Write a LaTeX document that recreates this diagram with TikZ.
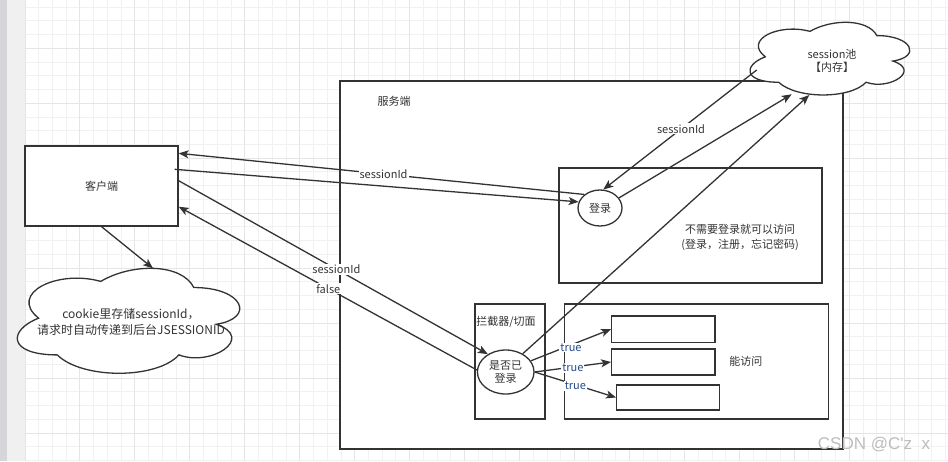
\documentclass[tikz,border=0pt]{standalone}
\usepackage{fontspec}
\setmainfont{Noto Sans CJK SC}
\newfontfamily\wmfont{Liberation Sans}
\usetikzlibrary{arrows.meta,calc,shapes.geometric}
\definecolor{linec}{HTML}{333333}
\definecolor{txtc}{HTML}{333333}
\definecolor{gridmin}{HTML}{F1F1F1}
\definecolor{gridmaj}{HTML}{E5E5E5}
\definecolor{truec}{HTML}{27498A}
\definecolor{stripd}{HTML}{D6D6DA}
\definecolor{stripl}{HTML}{F0F0F0}
\definecolor{wmark}{HTML}{BDBDBD}
% flipped draw.io cloud: x0, y0, w, h (pixel coordinates, y downwards)
\newcommand{\mycloud}[4]{%
\draw[cloudst] ({#1+0.75*#3},{#2+0.25*#4})
 .. controls ({#1+0.95*#3},{#2+0.25*#4}) and ({#1+#3},{#2+0.5*#4}) .. ({#1+0.84*#3},{#2+0.55*#4})
 .. controls ({#1+#3},{#2+0.66*#4}) and ({#1+0.82*#3},{#2+0.9*#4}) .. ({#1+0.69*#3},{#2+0.8*#4})
 .. controls ({#1+0.6*#3},{#2+#4}) and ({#1+0.3*#3},{#2+#4}) .. ({#1+0.2*#3},{#2+0.8*#4})
 .. controls ({#1},{#2+0.8*#4}) and ({#1},{#2+0.6*#4}) .. ({#1+0.125*#3},{#2+0.5*#4})
 .. controls ({#1},{#2+0.3*#4}) and ({#1+0.2*#3},{#2+0.1*#4}) .. ({#1+0.375*#3},{#2+0.2*#4})
 .. controls ({#1+0.5*#3},{#2+0.05*#4}) and ({#1+0.7*#3},{#2+0.05*#4}) .. ({#1+0.75*#3},{#2+0.25*#4})
 -- cycle;}
\tikzset{
 boxst/.style={draw=linec, line width=1.3pt, fill=white, rectangle, inner sep=0pt,
   font=\fontsize{11}{14}\selectfont, text=txtc},
 ellst/.style={draw=linec, line width=1.3pt, fill=white, ellipse, inner sep=0pt,
   font=\fontsize{11}{14}\selectfont, text=txtc, align=center},
 txt/.style={font=\fontsize{11}{15}\selectfont, text=txtc, align=center, inner sep=0pt},
 lbl/.style={font=\fontsize{11}{13}\selectfont, text=txtc, fill=white, inner sep=1pt},
 tlbl/.style={lbl, text=truec},
 conn/.style={draw=linec, line width=1.3pt, -{Stealth[length=10pt,width=8pt,inset=2.5pt]}},
 cloudst/.style={draw=linec, line width=1.3pt, fill=white},
 gmin/.style={draw=gridmin, line width=1pt},
 gmaj/.style={draw=gridmaj, line width=1pt},
}
\begin{document}
\begin{tikzpicture}[x=1pt,y=-1pt]
\useasboundingbox (0,0) rectangle (948,461);
% background and grid
\fill[white] (0,0) rectangle (948,461);
\foreach \i in {0,...,67} {\draw[gmin] ({25+13.74*\i},0) -- ({25+13.74*\i},461);}
\foreach \j in {0,...,34} {\draw[gmin] (25,{-6.66+13.74*\j}) -- (948,{-6.66+13.74*\j});}
\foreach \i in {0,...,16} {\draw[gmaj] ({25+54.96*\i},0) -- ({25+54.96*\i},461);}
\foreach \j in {0,...,8} {\draw[gmaj] (25,{-6.66+54.96*\j}) -- (948,{-6.66+54.96*\j});}
\fill[stripd] (0,0) rectangle (7,461);
\fill[stripl] (7,0) rectangle (25,461);

% server side
\node[boxst, minimum width=503pt, minimum height=368pt] (server) at (591.5,265) {};
\node[txt] (servert) at (394,101.5) {服务端};
\node[boxst, minimum width=263pt, minimum height=115pt] (free) at (690.5,225.5) {};
\node[txt] (freet) at (740,237.5) {不需要登录就可以访问\\(登录，注册，忘记密码)};
\node[boxst, minimum width=70pt, minimum height=115pt] (inter) at (510,361.5) {};
\node[txt] (intert) at (506,321.7) {拦截器/切面};
\node[boxst, minimum width=264pt, minimum height=115pt] (access) at (696.3,361.5) {};
\node[txt] (accesst) at (745.8,361.7) {能访问};
\node[boxst, minimum width=103.3pt, minimum height=26.3pt] (pa) at (663.35,329.15) {};
\node[boxst, minimum width=103.3pt, minimum height=26pt] (pb) at (663.35,362) {};
\node[boxst, minimum width=102.6pt, minimum height=25pt] (pc) at (668,397.5) {};
\node[ellst, minimum width=44pt, minimum height=36pt] (login) at (600,208) {登录};
\node[ellst, minimum width=56.6pt, minimum height=44pt, font=\fontsize{11}{13.3}\selectfont] (check) at (505.7,372) {是否已\\登录};

% session pool
\mycloud{743}{14.4}{178.4}{84.8}
\node[txt, font=\fontsize{11}{13}\selectfont] (pool) at (832,61) {session池\\【内存】};

% client
\node[boxst, minimum width=153pt, minimum height=80pt] (client) at (101.5,186) {客户端};
\mycloud{7.6}{256.9}{248.3}{122.5}
\node[txt, font=\fontsize{12}{16}\selectfont] (cookie) at (131,322) {cookie里存储sessionId，\\请求时自动传递到后台JSESSIONID};

% connectors
\draw[conn] (client.south) -- ($(cookie)+(22,-53.7)$);
\draw[conn] (login.139) -- node[lbl, pos=0.495] {sessionId} ($(client.east)+(0,-32.7)$);
\draw[conn] ($(client.east)+(-4,-16.7)$) -- (login.164);
\draw[conn] ($(client.east)+(0,-5.3)$) -- node[lbl, pos=0.51] {sessionId} (check.135);
\draw[conn] (check.176) -- node[lbl, pos=0.498] {false} ($(client.east)+(0,20.7)$);
\draw[conn] (login.28) -- ($(pool)+(-40.3,33.3)$);
\draw[conn] (check.47) -- ($(pool)+(-22.7,34)$);
\draw[conn] ($(pool)+(-75.3,9)$) -- node[lbl, pos=0.493] {sessionId} (login.80);
\draw[conn] (check.24) -- node[tlbl, yshift=-2.5pt] {true} (pa.west);
\draw[conn] (check.east) -- node[tlbl, yshift=-1pt] {true} (pb.west);
\draw[conn] (check.east) -- node[tlbl, yshift=-1pt] {true} (pc.west);

% watermark
\node[font=\wmfont\fontsize{17}{17}\selectfont, text=wmark, inner sep=0pt] (wm) at (874,445) {CSDN @C'z\ \ x};
\end{tikzpicture}
\end{document}
